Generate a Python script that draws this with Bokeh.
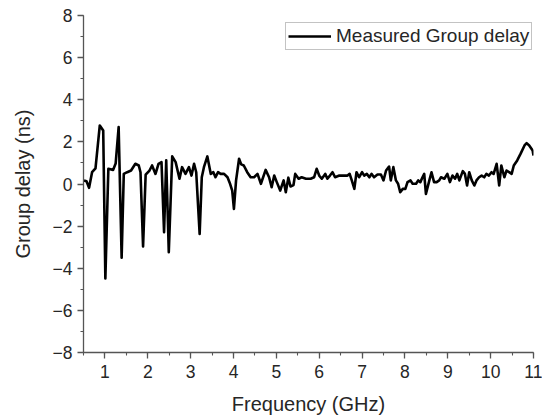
from bokeh.plotting import figure
from bokeh.models import Range1d, FixedTicker, Legend, LegendItem
from bokeh.embed import file_html
from bokeh.resources import INLINE

freq = [0.51, 0.57, 0.63, 0.70, 0.78, 0.88, 0.96, 1.01, 1.08, 1.19, 1.25, 1.32, 1.39, 1.44,
        1.52, 1.61, 1.71, 1.79, 1.83, 1.89, 1.95, 2.04, 2.10, 2.18, 2.25, 2.32, 2.38, 2.43,
        2.49, 2.57, 2.65, 2.74, 2.80, 2.88, 2.96, 3.02, 3.08, 3.13, 3.21, 3.26, 3.31, 3.39,
        3.47, 3.53, 3.58, 3.64, 3.70, 3.78, 3.86, 3.92, 3.97, 4.01, 4.06, 4.13, 4.18, 4.24,
        4.32, 4.40, 4.48, 4.56, 4.64, 4.75, 4.83, 4.89, 4.95, 5.01, 5.09, 5.17, 5.22, 5.28,
        5.33, 5.40, 5.44, 5.52, 5.59, 5.69, 5.80, 5.88, 5.94, 6.00, 6.06, 6.14, 6.19, 6.25,
        6.31, 6.37, 6.47, 6.58, 6.66, 6.71, 6.76, 6.82, 6.87, 6.93, 7.00, 7.05, 7.11, 7.17,
        7.22, 7.28, 7.36, 7.44, 7.50, 7.56, 7.63, 7.67, 7.73, 7.79, 7.84, 7.89, 7.95, 8.01,
        8.06, 8.13, 8.18, 8.26, 8.31, 8.36, 8.41, 8.45, 8.49, 8.57, 8.62, 8.68, 8.74, 8.80,
        8.84, 8.92, 8.99, 9.05, 9.11, 9.17, 9.22, 9.27, 9.35, 9.40, 9.45, 9.50, 9.56, 9.62,
        9.67, 9.73, 9.79, 9.85, 9.90, 9.96, 10.02, 10.07, 10.14, 10.20, 10.25, 10.32, 10.37,
        10.43, 10.49, 10.54, 10.62, 10.70, 10.79, 10.84, 10.90, 10.98, 11.00]

delay = [0.17, 0.13, -0.18, 0.56, 0.74, 2.78, 2.54, -4.49, 0.72, 0.67, 0.97, 2.70, -3.50, 0.48,
         0.56, 0.64, 0.96, 0.88, 0.56, -2.97, 0.44, 0.64, 0.88, 0.48, 0.96, 1.04, -2.29, 1.12,
         -3.24, 1.31, 1.04, 0.25, 0.80, 0.48, 0.80, 0.40, 0.96, 0.56, -2.37, 0.32, 0.80, 1.31,
         0.48, 0.56, 0.32, 0.56, 0.48, 0.48, 0.32, 0.01, -0.31, -1.18, 0.17, 1.20, 0.93, 0.88,
         0.56, 0.32, 0.32, 0.48, 0.01, 0.67, 0.32, -0.15, 0.40, 0.09, -0.31, 0.17, -0.39, 0.30,
         -0.12, -0.05, 0.48, 0.25, 0.32, 0.25, 0.25, 0.32, 0.72, 0.40, 0.25, 0.48, 0.25, 0.40,
         0.56, 0.32, 0.40, 0.40, 0.40, 0.48, 0.17, -0.23, 0.56, 0.32, 0.56, 0.40, 0.48, 0.32,
         0.48, 0.32, 0.45, 0.45, 0.17, 0.64, 0.83, 0.17, 0.80, 0.17, 0.01, -0.39, -0.23, -0.23,
         0.09, 0.17, 0.01, 0.01, 0.17, 0.09, 0.32, 0.48, -0.47, 0.17, 0.56, 0.09, 0.09, 0.17,
         0.32, 0.25, 0.48, 0.09, 0.40, 0.25, 0.48, 0.17, 0.61, 0.48, -0.07, 0.56, 0.17, -0.07,
         0.17, 0.32, 0.40, 0.32, 0.48, 0.40, 0.56, 0.48, 0.96, -0.07, 0.88, 0.32, 0.64,
         0.56, 0.48, 0.88, 1.12, 1.44, 1.83, 1.94, 1.83, 1.59, 1.35]

x_ticks = [1, 2, 3, 4, 5, 6, 7, 8, 9, 10, 11]
y_ticks = [-8, -6, -4, -2, 0, 2, 4, 6, 8]
series_name = "Measured Group delay"

FONT = "Liberation Sans"
TXT = "#262626"
AX = "#555555"

p = figure(width=542, height=417, output_backend="svg", toolbar_location=None,
           x_range=Range1d(0.5, 11), y_range=Range1d(-8, 8),
           min_border_left=83, min_border_right=9, min_border_top=15, min_border_bottom=65)
p.outline_line_color = None
p.xgrid.visible = False
p.ygrid.visible = False
p.background_fill_color = "white"
p.border_fill_color = "white"

r = p.line(freq, delay, line_color="black", line_width=2.6, line_join="round")

for ax in (p.xaxis[0], p.yaxis[0]):
    ax.axis_line_color = AX
    ax.axis_line_width = 1.3
    ax.major_tick_line_color = AX
    ax.minor_tick_line_color = AX
    ax.major_tick_line_width = 1.3
    ax.minor_tick_line_width = 1.1
    ax.major_tick_in = 0
    ax.major_tick_out = 6
    ax.minor_tick_in = 0
    ax.minor_tick_out = 3
    ax.major_label_text_font = FONT
    ax.major_label_text_font_size = "17.5px"
    ax.major_label_text_color = TXT
    ax.axis_label_text_font = FONT
    ax.axis_label_text_font_size = "20px"
    ax.axis_label_text_font_style = "normal"
    ax.axis_label_text_color = TXT

p.xaxis.ticker = FixedTicker(ticks=x_ticks, minor_ticks=[0.5 + 0.5 * i for i in range(22)])
p.yaxis.ticker = FixedTicker(ticks=y_ticks, minor_ticks=list(range(-8, 9)))
p.xaxis.axis_label = "Frequency (GHz)"
p.yaxis.axis_label = "Group delay (ns)"
p.xaxis.major_label_standoff = 6
p.yaxis.major_label_standoff = 5
p.xaxis.axis_label_standoff = 12
p.yaxis.axis_label_standoff = 16

legend = Legend(items=[LegendItem(label=series_name, renderers=[r])],
                location=(202, 302))
legend.label_text_font = FONT
legend.label_text_font_size = "19px"
legend.label_text_color = TXT
legend.border_line_color = "#888888"
legend.border_line_width = 1
legend.glyph_width = 43
legend.glyph_height = 18
legend.label_standoff = 5
legend.padding = 2
legend.margin = 0
legend.label_height = 18
p.add_layout(legend)

open("out.html", "w").write(file_html(p, INLINE))
